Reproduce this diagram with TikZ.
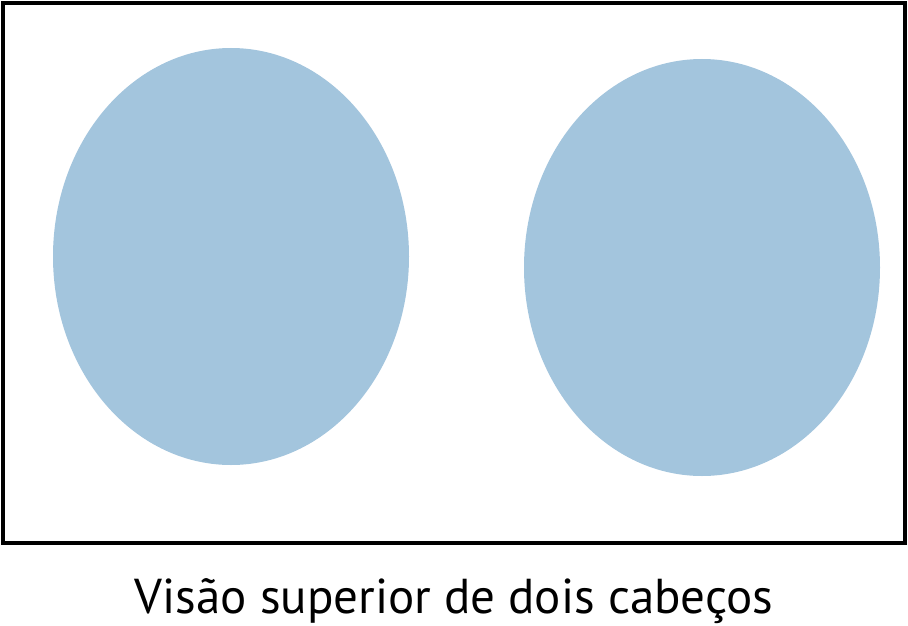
\documentclass[tikz,border=0pt]{standalone}
\usepackage{fontspec}
\setmainfont{PT Sans}
\definecolor{capblue}{HTML}{A3C5DD}
\tikzset{
  frame/.style={draw=black, line width=3.5pt},
  bollard/.style={fill=capblue, draw=none},
  caption/.style={anchor=base, inner sep=0pt, font=\fontsize{49}{58}\selectfont}
}
\begin{document}
\begin{tikzpicture}[x=1pt,y=-1pt]
\useasboundingbox (0,0) rectangle (908,626);
\draw[frame] (3,3) rectangle (905,543);
\fill[bollard] (231,256.5) ellipse [x radius=178, y radius=208.5];
\fill[bollard] (702,267.5) ellipse [x radius=178, y radius=208.5];
\node[caption] (label) at (454,613) {Visão superior de dois cabeços};
\end{tikzpicture}
\end{document}
